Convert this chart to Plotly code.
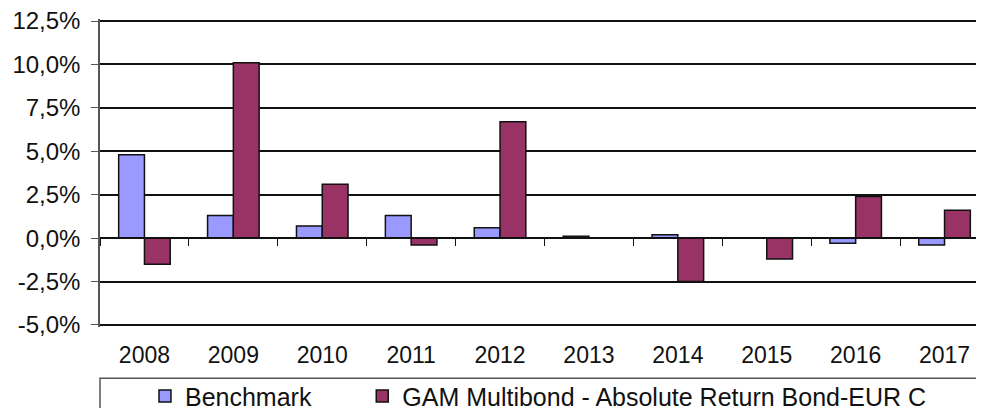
import plotly.graph_objects as go

years = ["2008", "2009", "2010", "2011", "2012", "2013", "2014", "2015", "2016", "2017"]
benchmark = [4.8, 1.3, 0.7, 1.3, 0.6, 0.1, 0.2, 0.0, -0.3, -0.4]
gam = [-1.5, 10.1, 3.1, -0.4, 6.7, 0.0, -2.5, -1.2, 2.4, 1.6]
y_ticks = [-5.0, -2.5, 0.0, 2.5, 5.0, 7.5, 10.0, 12.5]
y_tick_labels = ["-5,0%", "-2,5%", "0,0%", "2,5%", "5,0%", "7,5%", "10,0%", "12,5%"]

FONT = "Liberation Sans, Arial, sans-serif"

fig = go.Figure()
fig.add_trace(go.Bar(x=years, y=benchmark, name="Benchmark", legend="legend",
                     marker=dict(color="#9999FF", line=dict(color="#111", width=1.5))))
fig.add_trace(go.Bar(x=years, y=gam, name="GAM Multibond - Absolute Return Bond-EUR C",
                     legend="legend2",
                     marker=dict(color="#993366", line=dict(color="#111", width=1.5))))

x_range = [-0.5, 9.5]
y_range = [y_ticks[0] - 0.12, y_ticks[-1] + 0.12]
zero_pos = (0 - y_range[0]) / (y_range[1] - y_range[0])

legend_common = dict(orientation="h", xanchor="left", y=-0.225, yanchor="middle",
                     font=dict(size=25), bgcolor="rgba(0,0,0,0)", borderwidth=0,
                     itemwidth=30)

fig.update_layout(
    width=984, height=408,
    margin=dict(l=92, r=3, t=11, b=89, autoexpand=False),
    paper_bgcolor="white", plot_bgcolor="white",
    font=dict(family=FONT, size=23, color="#111"),
    barmode="group", bargap=0.42, bargroupgap=0,
    showlegend=True,
    legend=dict(x=0.0506, **legend_common),
    legend2=dict(x=0.295, **legend_common),
    xaxis=dict(type="category", range=x_range, showgrid=False, automargin=False,
               anchor="free", position=zero_pos,
               showline=True, linecolor="#111", linewidth=1.5,
               ticks="outside", tickson="boundaries", ticklen=7, tickcolor="#111",
               ticklabelstandoff=97, tickfont=dict(size=23)),
    yaxis=dict(range=y_range, tickvals=y_ticks, ticktext=y_tick_labels,
               showgrid=True, gridcolor="#111", gridwidth=1.5, zeroline=False,
               automargin=False, ticklabeloverflow="allow",
               showline=True, linecolor="#555", linewidth=1.5,
               ticks="outside", ticklen=7, tickcolor="#555", ticklabelstandoff=6,
               tickfont=dict(size=24)),
    shapes=[dict(type="rect", xref="paper", yref="paper", x0=0, x1=1.05,
                 y0=-0.166, y1=-0.4, line=dict(color="#555", width=1.5),
                 fillcolor="rgba(0,0,0,0)", layer="below")],
)

fig.write_html("out.html")
